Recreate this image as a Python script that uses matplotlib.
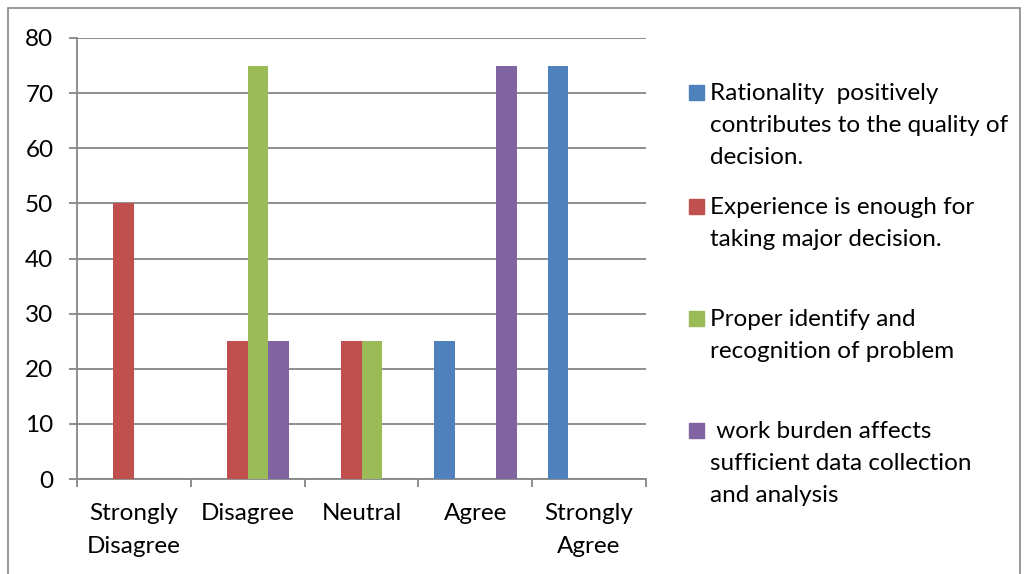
import matplotlib
matplotlib.use("Agg")
import matplotlib.pyplot as plt
import numpy as np
from matplotlib.patches import Rectangle

plt.rcParams['font.family'] = ['Lato', 'DejaVu Sans']

categories = ["Strongly\nDisagree", "Disagree", "Neutral", "Agree", "Strongly\nAgree"]
series_names = ["Rationality  positively\ncontributes to the quality of\ndecision.",
                "Experience is enough for\ntaking major decision.",
                "Proper identify and\nrecognition of problem",
                " work burden affects\nsufficient data collection\nand analysis"]
rationality = [0, 0, 0, 25, 75]
experience = [50, 25, 25, 0, 0]
proper_identify = [0, 75, 25, 0, 0]
work_burden = [0, 25, 0, 75, 0]
colors = ["#4F81BD", "#C0504D", "#9BBB59", "#8064A2"]
yticks = [0, 10, 20, 30, 40, 50, 60, 70, 80]

W, H = 1029, 574
fs = 17.5
fig = plt.figure(figsize=(W / 100, H / 100), dpi=100)
grey = "#868686"

# outer frame
fig.patches.append(Rectangle((8 / W, -0.01), (W - 9) / W - 8 / W, 1 - 8 / H + 0.01,
                             transform=fig.transFigure, fill=False, edgecolor=grey, lw=1.2))

ax = fig.add_axes([77 / W, (H - 479) / H, 569 / W, (479 - 38) / H])
x = np.arange(len(categories))
bw = 1 / 5.5
for i, vals in enumerate([rationality, experience, proper_identify, work_burden]):
    ax.bar(x + (i - 1.5) * bw, vals, bw, color=colors[i], zorder=3)

ax.set_xlim(-0.5, len(categories) - 0.5)
ax.set_ylim(0, 80)
ax.set_yticks(yticks)
ax.yaxis.grid(True, color=grey, lw=1.3)
ax.set_axisbelow(True)
ax.tick_params(axis='y', length=6, width=1.3, color=grey, pad=11, labelsize=fs)
ax.set_xticks(np.arange(len(categories) + 1) - 0.5)
ax.set_xticklabels([])
ax.set_xticks(x, categories, minor=True)
ax.tick_params(axis='x', which='major', length=6, width=1.3, color=grey)
ax.tick_params(axis='x', which='minor', length=0, pad=17, labelsize=fs)
for lab in ax.get_xticklabels(minor=True):
    lab.set_linespacing(1.72)
for s in ['top', 'right']:
    ax.spines[s].set_visible(False)
ax.spines['left'].set_color(grey)
ax.spines['bottom'].set_color(grey)
ax.spines['left'].set_linewidth(1.3)
ax.spines['bottom'].set_linewidth(1.3)

# legend
entry_y = [92, 206, 318, 430]
for i, name in enumerate(series_names):
    yc = entry_y[i]
    fig.patches.append(Rectangle((689 / W, 1 - (yc + 7.5) / H), 15 / W, 15 / H,
                                 transform=fig.transFigure, color=colors[i]))
    fig.text(710 / W, 1 - (yc - 9) / H, name, fontsize=fs, va='top', ha='left',
             linespacing=1.65)

fig.savefig("out.png", dpi=100)
